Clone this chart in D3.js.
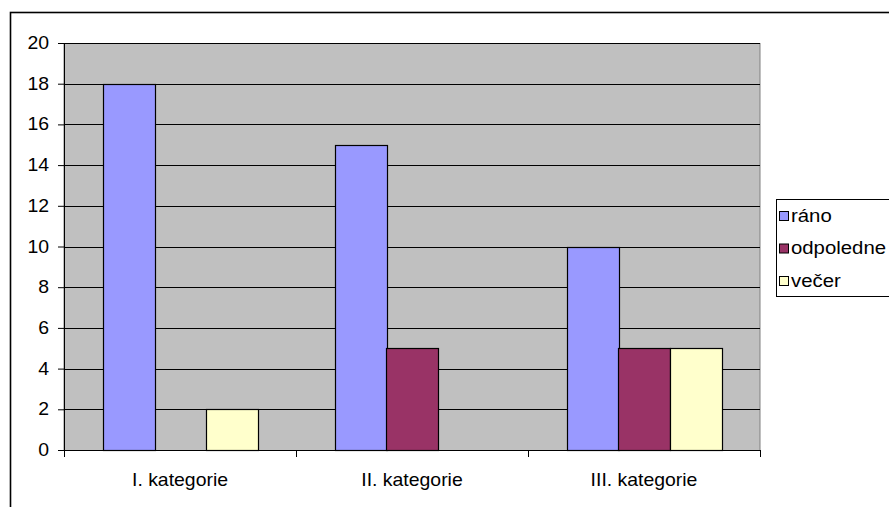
<!DOCTYPE html>
<html>
<head>
<meta charset="utf-8">
<script src="https://cdn.jsdelivr.net/npm/d3@7/dist/d3.min.js"></script>
<style>
  html, body { margin: 0; padding: 0; background: #fff; }
  svg { display: block; }
  text { font-family: "Liberation Sans", Arial, sans-serif; fill: #000; }
</style>
</head>
<body>
<svg id="chart" width="889" height="507"></svg>
<script>
// Chart data
const categories = ["I. kategorie", "II. kategorie", "III. kategorie"];
const seriesNames = ["ráno", "odpoledne", "večer"];
const rano = [18, 15, 10];
const odpoledne = [0, 5, 5];
const vecer = [2, 0, 5];
const yTicks = [0, 2, 4, 6, 8, 10, 12, 14, 16, 18, 20];
const seriesColors = ["#9999FF", "#993366", "#FFFFCC"];

const seriesValues = [rano, odpoledne, vecer];
const rows = categories.map((c, i) => ({
  category: c,
  values: seriesNames.map((s, j) => ({ key: s, value: seriesValues[j][i], color: seriesColors[j] }))
}));

const svg = d3.select("#chart");
const plot = { left: 64, top: 43, right: 760, bottom: 450 };

// Places a label whose glyphs are stretched horizontally about its anchor point
function label(parent, x, y, str, anchor, size, sx) {
  const g = parent.append("g").attr("transform", `translate(${x},${y}) scale(${sx || 1.11},1)`);
  g.append("text")
    .attr("text-anchor", anchor || "start")
    .style("font-size", (size || 17.5) + "px")
    .text(str);
  return g;
}

// Outer chart frame
svg.append("rect")
  .attr("x", 10.5).attr("y", 12.5)
  .attr("width", 1000).attr("height", 1000)
  .attr("fill", "#fff").attr("stroke", "#000").attr("stroke-width", 1.6);

const y = d3.scaleLinear().domain([0, 20]).range([plot.bottom, plot.top]);
const x0 = d3.scaleBand().domain(categories).range([plot.left, plot.right]).paddingInner(0).paddingOuter(0);
// 150% gap between groups: group = 3 bars, gap = 1.5 bars
const groupInset = x0.bandwidth() * (1.5 / 4.5) / 2;
const x1 = d3.scaleBand().domain(seriesNames)
  .range([groupInset, x0.bandwidth() - groupInset]).padding(0);

// Plot area
svg.append("rect")
  .attr("x", plot.left).attr("y", plot.top + 0.5)
  .attr("width", plot.right - plot.left).attr("height", plot.bottom - plot.top)
  .attr("fill", "#C0C0C0").attr("stroke", "#808080").attr("stroke-width", 1);

// Horizontal gridlines
svg.append("g").selectAll("line")
  .data(yTicks.filter(t => t > 0))
  .join("line")
  .attr("x1", plot.left).attr("x2", plot.right)
  .attr("y1", d => Math.round(y(d)) + 0.5).attr("y2", d => Math.round(y(d)) + 0.5)
  .attr("stroke", "#000").attr("stroke-width", 1);

// Bars
const groups = svg.append("g").selectAll("g")
  .data(rows)
  .join("g")
  .attr("transform", d => `translate(${x0(d.category)},0)`);

groups.selectAll("rect")
  .data(d => d.values.filter(v => v.value > 0))
  .join("rect")
  .attr("x", d => Math.round(x1(d.key)) + 0.5)
  .attr("y", d => Math.round(y(d.value)) + 0.5)
  .attr("width", Math.round(x1.bandwidth()))
  .attr("height", d => Math.round(y(0)) - Math.round(y(d.value)))
  .attr("fill", d => d.color)
  .attr("stroke", "#000").attr("stroke-width", 1.2);

// Y axis (line and ticks from d3.axisLeft, labels placed separately)
const yAxis = d3.axisLeft(y).tickValues(yTicks).tickSize(6).tickFormat("");
const yg = svg.append("g").attr("transform", `translate(${plot.left},0)`).call(yAxis);
yg.select(".domain").attr("stroke", "#000").attr("d", `M0.5,${plot.top}V${plot.bottom}`);
yg.selectAll(".tick line").attr("stroke", "#000");
const yLabels = svg.append("g");
yTicks.forEach(t => label(yLabels, 49, y(t) + 6, d3.format("d")(t), "end"));

// X axis
const xg = svg.append("g").attr("transform", `translate(0,${plot.bottom})`);
xg.append("line")
  .attr("x1", plot.left).attr("x2", plot.right)
  .attr("y1", 0.5).attr("y2", 0.5).attr("stroke", "#000");
const boundaries = categories.map(c => x0(c)).concat([plot.right]);
xg.selectAll("line.tick").data(boundaries).join("line")
  .attr("class", "tick")
  .attr("x1", d => Math.round(d) + 0.5).attr("x2", d => Math.round(d) + 0.5)
  .attr("y1", 0).attr("y2", 7).attr("stroke", "#000");
categories.forEach(c => label(xg, x0(c) + x0.bandwidth() / 2, 36, c, "middle"));

// Legend
const legend = svg.append("g");
legend.append("rect")
  .attr("x", 776.5).attr("y", 199.5).attr("width", 130).attr("height", 97)
  .attr("fill", "#fff").attr("stroke", "#000").attr("stroke-width", 1);
seriesNames.forEach((s, i) => {
  const top = 211 + i * 32.5;
  legend.append("rect")
    .attr("x", 779.5).attr("y", top + 0.5).attr("width", 9).attr("height", 9)
    .attr("fill", seriesColors[i]).attr("stroke", "#000").attr("stroke-width", 1);
  label(legend, 791, top + 10.5, s, "start", 18.5, 1.1);
});
</script>
</body>
</html>
